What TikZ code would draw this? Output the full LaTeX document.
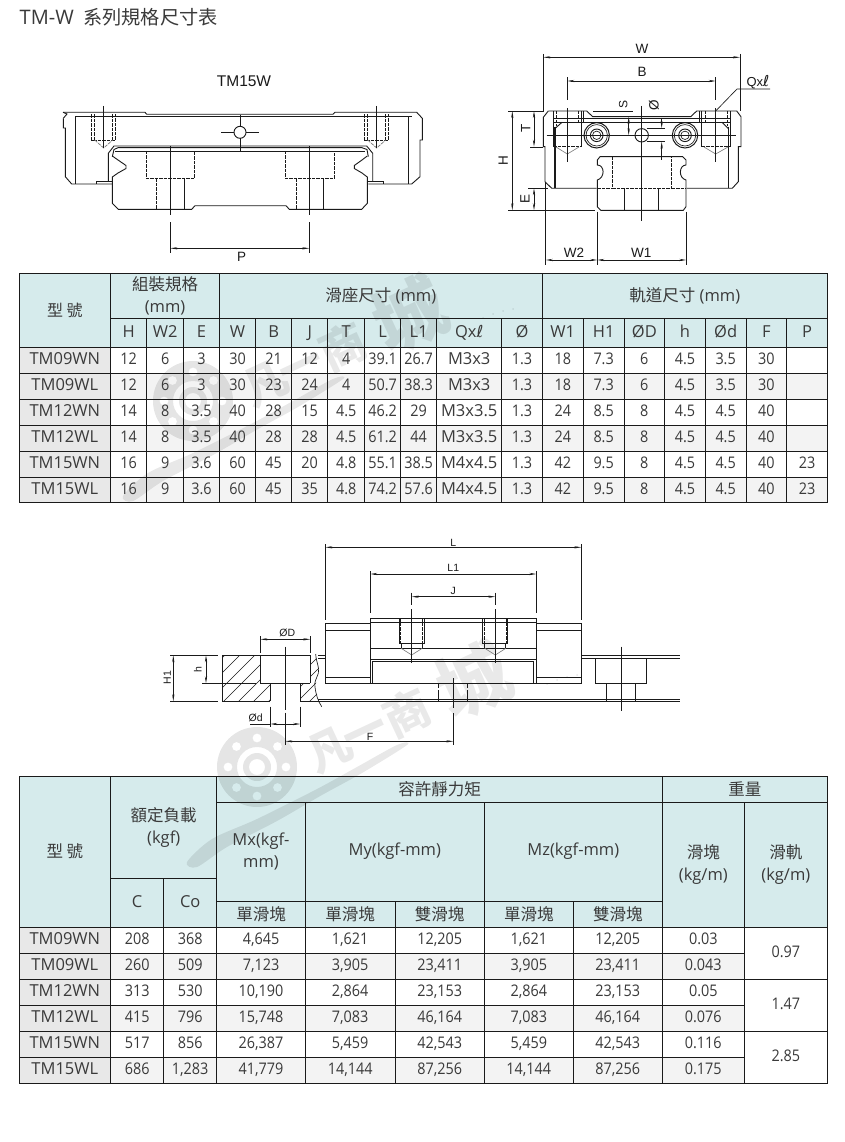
\documentclass[tikz,border=0pt]{standalone}
\usepackage{fontspec}
\usetikzlibrary{arrows.meta}
\setmainfont{Open Sans}
\newfontfamily\cjk{Noto Sans CJK TC}
\newfontfamily\cjksc{Noto Sans CJK SC}
\newfontfamily\djv{DejaVu Sans}
\newfontfamily\lib{Liberation Sans}
\newfontfamily\numf[FakeStretch=0.9]{Open Sans}
\definecolor{hdr}{HTML}{D6EBEC}
\definecolor{colg}{HTML}{E8E8E8}
\definecolor{rowg}{HTML}{F3F3F3}
\definecolor{txt}{HTML}{3A3A3A}
\definecolor{ink}{HTML}{1A1A1A}
\pgfdeclarelayer{bg}\pgfdeclarelayer{wm}
\pgfsetlayers{bg,wm,main}
\newcounter{cellno}
\def\nfn{\numf\fontsize{16}{22}\selectfont}
\tikzset{
 tline/.style={line width=0.9pt,draw=ink},
 tcell/.style={inner sep=0pt,align=center,text=txt,font=\fontsize{16.5}{22}\selectfont},
 o/.style={line width=0.9pt,draw=ink,line join=miter},
 ot/.style={line width=1.6pt,draw=ink},
 thin/.style={line width=0.65pt,draw=ink},
 dsh/.style={line width=0.75pt,draw=ink,dash pattern=on 3.5pt off 1pt},
 dim/.style={line width=0.65pt,draw=ink,{Stealth[length=7pt,width=2.2pt]}-{Stealth[length=7pt,width=2.2pt]}},
 lb/.style={inner sep=0pt,text=ink,font=\lib\fontsize{13.5}{13}\selectfont},
 lbs/.style={inner sep=0pt,text=ink,font=\lib\fontsize{10.5}{10}\selectfont},
 wmt/.style={rotate=25,opacity=.085,inner sep=0pt},
}
\newcommand{\tc}[6]{\stepcounter{cellno}%
 \begin{pgfonlayer}{bg}\fill[#5] (#1,#2) rectangle (#3,#4);\end{pgfonlayer}%
 \draw[tline] (#1,#2) rectangle (#3,#4);
 \node[tcell] (c\arabic{cellno}) at ({(#1+#3)/2},{(#2+#4)/2}) {#6};}
\newcommand{\wmark}[3]{\begin{scope}[shift={(#1,#2)}]
 \fill[black,opacity=.10,even odd rule] (0,0) circle (40pt) (0,0) circle (20pt) (0,0) circle (14pt) (0,0) circle (8pt)
  (29,0) circle (4.5pt) (20.5,20.5) circle (4.5pt) (0,29) circle (4.5pt) (-20.5,20.5) circle (4.5pt)
  (-29,0) circle (4.5pt) (-20.5,-20.5) circle (4.5pt) (0,-29) circle (4.5pt) (20.5,-20.5) circle (4.5pt);
 \fill[black,opacity=.09] plot[smooth cycle] coordinates {(-70,95) (-45,72) (0,52) (60,22) (100,0) (140,-22) (150,-22) (105,6) (65,28) (20,54) (-30,80) (-60,100)};
 \node[wmt,font=\cjksc\bfseries\fontsize{44}{44}\selectfont] (w#3a) at (73,-17) {凡};
 \node[wmt,font=\cjksc\bfseries\fontsize{44}{44}\selectfont] (w#3b) at (110,-30) {一};
 \node[wmt,font=\cjksc\bfseries\fontsize{46}{46}\selectfont] (w#3c) at (150,-54) {商};
 \node[wmt,font=\cjksc\bfseries\fontsize{72}{72}\selectfont] (w#3d) at (216,-87) {城};
 \foreach \a/\b in {290/-83,300/-87,310/-90,320/-92}{\fill[black,opacity=.09] (\a,\b) circle (1pt);}
\end{scope}}
\begin{document}
\begin{tikzpicture}[x=1pt,y=-1pt]
\useasboundingbox (0,0) rectangle (845,1142);
\begin{pgfonlayer}{bg}\fill[white] (0,0) rectangle (845,1142);\end{pgfonlayer}
\begin{pgfonlayer}{wm}\wmark{193}{401}{A}\wmark{257}{767}{B}\end{pgfonlayer}

% title
\node[anchor=west,inner sep=0pt,text=txt,font=\fontsize{20}{20}\selectfont] (title) at (19.5,17) {TM-W {\cjk\fontsize{19.2}{19}\selectfont\ 系列規格尺寸表}};

% ---- table 1 header
\tc{19}{273.7}{110.7}{347.3}{hdr}{{\cjk\fontsize{16}{16}\selectfont 型 號}}
\tc{110.7}{273.7}{219.3}{318.3}{hdr}{{\cjk\fontsize{16.5}{22}\selectfont 組裝規格}\\(mm)}
\tc{219.3}{273.7}{542.3}{318.3}{hdr}{{\cjk\fontsize{16.5}{16}\selectfont 滑座尺寸} (mm)}
\tc{542.3}{273.7}{827.3}{318.3}{hdr}{{\cjk\fontsize{16.5}{16}\selectfont 軌道尺寸} (mm)}
\def\xa{{19,110.7,146.7,183.7,219.3,255.7,291.7,327.7,364.7,400.7,436.7,501.7,542.3,583.3,624,664.7,705.3,746,786.7,827.3}}
\foreach \v [count=\i] in {H,W2,E,W,B,J,T,L,L1,{Qx{\djv\fontsize{16.5}{16}\selectfont ℓ}},Ø,W1,H1,ØD,h,Ød,F,P}{
 \pgfmathsetmacro\xl{\xa[\i]}\pgfmathsetmacro\xr{\xa[\i+1]}
 \tc{\xl}{318.3}{\xr}{347.3}{hdr}{\vphantom{(}\v}
}
\foreach \ya/\yb/\rf/\vals in {
 347.3/373/white/{TM09WN,12,6,3,30,21,12,4,39.1,26.7,M3x3,1.3,18,7.3,6,4.5,3.5,30,{}},
 373/399.3/rowg/{TM09WL,12,6,3,30,23,24,4,50.7,38.3,M3x3,1.3,18,7.3,6,4.5,3.5,30,{}},
 399.3/425.3/white/{TM12WN,14,8,3.5,40,28,15,4.5,46.2,29,M3x3.5,1.3,24,8.5,8,4.5,4.5,40,{}},
 425.3/451.3/rowg/{TM12WL,14,8,3.5,40,28,28,4.5,61.2,44,M3x3.5,1.3,24,8.5,8,4.5,4.5,40,{}},
 451.3/477.3/white/{TM15WN,16,9,3.6,60,45,20,4.8,55.1,38.5,M4x4.5,1.3,42,9.5,8,4.5,4.5,40,23},
 477.3/502.3/rowg/{TM15WL,16,9,3.6,60,45,35,4.8,74.2,57.6,M4x4.5,1.3,42,9.5,8,4.5,4.5,40,23}}{
 \foreach \v [count=\i] in \vals {
  \pgfmathsetmacro\xl{\xa[\i-1]}\pgfmathsetmacro\xr{\xa[\i]}
  \ifnum\i=1 \def\ff{colg}\def\fn{}\else\let\ff\rf\let\fn\nfn\fi
  \ifnum\i=11 \def\fn{}\fi
  \tc{\xl}{\ya}{\xr}{\yb}{\ff}{\fn\vphantom{(}\v}
 }
}

% ---- table 2 header
\def\hz{\cjk\fontsize{16.5}{22}\selectfont}
\tc{19}{776}{110.7}{927.3}{hdr}{{\hz 型 號}}
\tc{110.7}{776}{216.7}{878.3}{hdr}{{\hz 額定負載}\\(kgf)}
\tc{110.7}{878.3}{163.7}{927.3}{hdr}{\vphantom{(}C}
\tc{163.7}{878.3}{216.7}{927.3}{hdr}{\vphantom{(}Co}
\tc{216.7}{776}{662.3}{802.3}{hdr}{{\hz 容許靜力矩}}
\tc{662.3}{776}{827.3}{802.3}{hdr}{{\hz 重量}}
\tc{216.7}{802.3}{305.3}{901}{hdr}{Mx(kgf-\\mm)}
\tc{305.3}{802.3}{484.3}{901}{hdr}{My(kgf-mm)}
\tc{484.3}{802.3}{662.3}{901}{hdr}{Mz(kgf-mm)}
\tc{216.7}{901}{305.3}{927.3}{hdr}{{\hz 單滑塊}}
\tc{305.3}{901}{395}{927.3}{hdr}{{\hz 單滑塊}}
\tc{395}{901}{484.3}{927.3}{hdr}{{\hz 雙滑塊}}
\tc{484.3}{901}{573.3}{927.3}{hdr}{{\hz 單滑塊}}
\tc{573.3}{901}{662.3}{927.3}{hdr}{{\hz 雙滑塊}}
\tc{662.3}{802.3}{744.3}{927.3}{hdr}{{\hz 滑塊}\\(kg/m)}
\tc{744.3}{802.3}{827.3}{927.3}{hdr}{{\hz 滑軌}\\(kg/m)}
\def\xb{{19,110.7,163.7,216.7,305.3,395,484.3,573.3,662.3,744.3}}
\foreach \ya/\yb/\rf/\vals in {
 927.3/953.3/white/{TM09WN,208,368,{4,645},{1,621},{12,205},{1,621},{12,205},0.03},
 953.3/979.3/rowg/{TM09WL,260,509,{7,123},{3,905},{23,411},{3,905},{23,411},0.043},
 979.3/1005.3/white/{TM12WN,313,530,{10,190},{2,864},{23,153},{2,864},{23,153},0.05},
 1005.3/1031.3/rowg/{TM12WL,415,796,{15,748},{7,083},{46,164},{7,083},{46,164},0.076},
 1031.3/1057.3/white/{TM15WN,517,856,{26,387},{5,459},{42,543},{5,459},{42,543},0.116},
 1057.3/1083.3/rowg/{TM15WL,686,{1,283},{41,779},{14,144},{87,256},{14,144},{87,256},0.175}}{
 \foreach \v [count=\i] in \vals {
  \pgfmathsetmacro\xl{\xb[\i-1]}\pgfmathsetmacro\xr{\xb[\i]}
  \ifnum\i=1 \def\ff{colg}\def\fn{}\else\let\ff\rf\let\fn\nfn\fi
  \tc{\xl}{\ya}{\xr}{\yb}{\ff}{\fn\vphantom{(}\v}
 }
}
\tc{744.3}{927.3}{827.3}{979.3}{white}{\nfn\vphantom{(}0.97}
\tc{744.3}{979.3}{827.3}{1031.3}{white}{\nfn\vphantom{(}1.47}
\tc{744.3}{1031.3}{827.3}{1083.3}{white}{\nfn\vphantom{(}2.85}

% ---- front view
\node[lb,font=\lib\fontsize{15.5}{16}\selectfont] (tm15) at (244,81) {TM15W};
\draw[o] (63,112.3) -- (145,112.3) -- (146.7,114.3) -- (333,114.3) -- (335,112.3) -- (416.7,112.3) -- (422.3,118.3) -- (422.3,140) -- (420,140) -- (420,176.7) -- (411.7,184) -- (368.3,184);
\draw[o] (63.3,118.3) -- (63.3,128) -- (65.3,128) -- (65.3,176.7) -- (71.7,184) -- (112.3,184);
\draw[o] (63,112.3) -- (67,114) -- (63.3,118.3);
\draw[ot] (75,116.7) -- (411.7,116.7);
\draw[o] (75.7,116.7) -- (75.7,184) (408.3,116.7) -- (408.3,184);
\draw[o] (96.7,184) -- (96.7,181) -- (112.3,181) (368.3,181) -- (383.3,181) -- (383.3,184);
\draw[o] (108.3,181) -- (108.3,153.3) -- (114,146) -- (366.7,146) -- (372.7,153.3) -- (372.7,181);
\draw[o] (112.3,156.7) -- (114,149.5) -- (118,147.7) -- (362,147.7) -- (367,149.5) -- (368.3,156.7);
\draw[o] (115,151) -- (365,151);
\draw[o] (112.3,156) -- (118,160) -- (126,165.5) -- (126,168.5) -- (118,173) -- (112.3,177) -- (112.3,203.3) -- (118.3,209.3) -- (191.7,209.3) -- (195,205.7) -- (286,205.7) -- (289.3,209.3) -- (361.7,209.3) -- (367.3,203.3) -- (367.3,177) -- (362,173) -- (354.3,168.5) -- (354.3,165.5) -- (362,160) -- (367.3,156);
\draw[o] (240,132.3) circle (6pt);
\draw[thin] (221,132.3) -- (234,132.3) (246,132.3) -- (259,132.3) (240,115) -- (240,126.3) (240,138.3) -- (240,151);
\foreach \c in {103.7,376.7}{
 \draw[dsh] (\c-12,114.5) -- (\c-12,140) -- (\c+12,140) -- (\c+12,114.5);
 \draw[dsh] (\c-9,114.5) -- (\c-9,140) (\c+9,114.5) -- (\c+9,140);
 \draw[dsh,draw=gray] (\c-9,140) -- (\c,148) -- (\c+9,140);
 \draw[thin] (\c,106) -- (\c,148);
}
\draw[dsh] (146,151) -- (146,178.3) -- (194.7,178.3) -- (194.7,151);
\draw[dsh] (285,151) -- (285,178.3) -- (334.7,178.3) -- (334.7,151);
\draw[dsh] (156,178.3) -- (156,209.3) (296.3,178.3) -- (296.3,209.3);
\draw[o] (184.3,178.3) -- (184.3,209.3) (323.3,178.3) -- (323.3,209.3);
\draw[thin] (170.3,146) -- (170.3,215) (170.3,222.3) -- (170.3,253.3) (309.3,146) -- (309.3,215) (309.3,222.3) -- (309.3,253.3);
\draw[dim] (170.3,248.3) -- (309.3,248.3);
\node[lb] (lp) at (241.7,257.2) {P};

% ---- end view
\draw[o] (548.3,111) -- (586.7,111) -- (592.7,116.7) -- (690.7,116.7) -- (696.7,111) -- (736.7,111) -- (741,116.7) -- (741,146.7) -- (738.3,146.7) -- (738.3,181.7) -- (732.3,188.3) -- (686.7,188.3);
\draw[o] (548.3,111) -- (543.3,117.3) -- (543.3,146.7) -- (545,146.7) -- (545,181.7) -- (551.7,188.3) -- (596.7,188.3);
\draw[o] (553.3,118.3) -- (730,118.3) (553.3,122.3) -- (730,122.3);
\draw[ot] (555,126.7) -- (555,188.3) (728.3,126.7) -- (728.3,188.3);
\draw[o] (555,128.5) -- (562,122.3) (728.3,128.5) -- (722,122.3);
\draw[o] (553.3,111) -- (553.3,146.7) (581,111) -- (581,146.7) (583,111) -- (583,122.3) (701.7,111) -- (701.7,146.7) (699.5,111) -- (699.5,122.3) (730,111) -- (730,146.7);
\draw[dsh] (553.3,146.7) -- (581,146.7) (701.7,146.7) -- (730,146.7);
\draw[dsh] (556,111) -- (556,126) (578,111) -- (578,122) (705,111) -- (705,122) (727,111) -- (727,126);
\draw[thin,draw=gray] (556,147) -- (567.3,154) -- (579,147) (704,147) -- (715.7,154) -- (728,147);
\foreach \c in {596.7,685}{
 \draw[o,line width=1pt] (\c,135.3) circle (12.7pt);
 \draw[thin] (\c,135.3) circle (10.7pt);
 \draw[o] (\c,135.3) circle (6.3pt);
 \draw[thin] (\c,135.3) circle (4.2pt);
}
\draw[o] (641.7,135.3) circle (6.7pt);
\draw[thin] (546.7,135.3) -- (736,135.3);
\draw[thin] (641.7,106) -- (641.7,220.7);
\draw[o] (600,156.7) -- (682.7,156.7) -- (686,160) -- (686,165) .. controls (679,165) and (678,178) .. (686,180) -- (686,206.7) -- (683.3,210.3) -- (600.7,210.3) -- (597.3,206.7) -- (597.3,180) .. controls (605,178) and (605,165) .. (597.3,165) -- (597.3,160) -- cycle;
\draw[dsh] (612.3,156.7) -- (612.3,188.3) -- (671.7,188.3) -- (671.7,156.7);
\draw[dsh] (597.3,188.3) -- (612.3,188.3) (671.7,188.3) -- (686,188.3);
\draw[o] (624.3,188.3) -- (624.3,210.3) (658.3,188.3) -- (658.3,210.3);
% end view dimensions
\draw[thin] (543.3,54) -- (543.3,111) -- (508.3,111) (740,54) -- (740,111);
\draw[dim] (543.3,57.3) -- (740,57.3);
\node[lb] (lw) at (642,49) {W};
\draw[thin] (567.3,77.3) -- (567.3,100) (567.3,108.3) -- (567.3,161.7) (715.7,77.3) -- (715.7,100) (715.7,108.3) -- (715.7,161.7);
\draw[dim] (567.3,81) -- (715.7,81);
\node[lb] (lbb) at (642,71.7) {B};
\draw[thin] (715.7,111) -- (737,89) -- (770,89);
\node[lb,font=\lib\fontsize{13}{13}\selectfont] (lq) at (758,81.7) {Qx{\djv\fontsize{15}{13}\selectfont ℓ}};
\draw[dim] (512.3,111) -- (512.3,210.3);
\draw[thin] (508.3,210.3) -- (595,210.3);
\node[lb,rotate=90] (lh) at (503.3,160.7) {H};
\draw[dim] (534,111) -- (534,146.7);
\draw[thin] (530,147.3) -- (543.3,147.3) (528.3,188.3) -- (548.3,188.3);
\node[lb,rotate=90] (lt) at (525.7,128.3) {T};
\draw[dim] (534,188.3) -- (534,210.3);
\node[lb,rotate=90] (le) at (525,199.3) {E};
\draw[thin] (545.7,181.7) -- (545.7,265) (597.3,211.7) -- (597.3,265) (686.3,211.7) -- (686.3,265);
\draw[dim] (545.7,260) -- (597.3,260);
\draw[dim] (597.3,260) -- (686.3,260);
\node[lb] (lw2) at (574,252.7) {W2};
\node[lb] (lw1) at (641.3,252.7) {W1};
\draw[thin] (593.3,111) -- (632.7,111);
\draw[dim] (628.7,116.7) -- (628.7,135.3);
\node[lb,rotate=90,font=\lib\fontsize{12}{12}\selectfont] (ls) at (623.3,104) {S};
\node[lb,rotate=90] (lo) at (654,105) {Ø};
\draw[thin] (646.7,128.3) -- (665,128.3) (646.7,141.7) -- (665,141.7);
\draw[line width=.65pt,draw=ink,-{Stealth[length=7pt,width=2.2pt]}] (661.7,118) -- (661.7,128.3);
\draw[line width=.65pt,draw=ink,-{Stealth[length=7pt,width=2.2pt]}] (661.7,160) -- (661.7,141.7);

% ---- side view
\draw[o] (325.3,623.3) rectangle (370.3,683.3);
\draw[o] (536.3,623.3) rectangle (581.3,683.3);
\draw[o] (325.3,630) -- (370.3,630) (325.3,677.3) -- (370.3,677.3) (536.3,630) -- (581.3,630) (536.3,677.3) -- (581.3,677.3);
\draw[o] (370.3,618.3) -- (536.3,618.3) -- (536.3,683.3) -- (370.3,683.3) -- cycle;
\draw[o] (370.3,622.3) -- (536.3,622.3) (370.3,648.3) -- (536.3,648.3) (370.3,659.3) -- (536.3,659.3);
\draw[o] (372.3,683.3) -- (372.3,661.7) -- (533.3,661.7) -- (533.3,683.3);
\foreach \c in {411.7,495.3}{
 \draw[o] (\c-12.5,618.3) -- (\c-12.5,643.3) -- (\c+12.5,643.3) -- (\c+12.5,618.3);
 \draw[dsh] (\c-11,618.3) -- (\c-11,643.3) (\c+11,618.3) -- (\c+11,643.3);
 \draw[o] (\c-10.5,643.3) -- (\c-10.5,648.3) (\c+10.5,643.3) -- (\c+10.5,648.3);
 \draw[thin,draw=gray] (\c-10.5,648.3) -- (\c,655) -- (\c+10.5,648.3);
 \draw[thin] (\c,609.3) -- (\c,663.3) (\c,592.7) -- (\c,605);
}
\draw[thin] (325.3,544) -- (325.3,620) (581.3,544) -- (581.3,620);
\draw[dim] (325.3,547.3) -- (581.3,547.3);
\node[lbs] (ll) at (453.3,542.7) {L};
\draw[thin] (370.3,571) -- (370.3,613.3) (536.3,571) -- (536.3,613.3);
\draw[dim] (370.3,574) -- (536.3,574);
\node[lbs] (ll1) at (453.3,568.3) {L1};
\draw[dim] (411.7,596.7) -- (495.3,596.7);
\node[lbs] (lj) at (453.3,591) {J};
% rail
\draw[o] (222.3,655.3) -- (310.7,655.3) (222.3,655.3) -- (222.3,701.3) -- (270.3,701.3) (300.3,701.3) -- (320,701.3);
\draw[o] (202.3,683.3) -- (256,683.3) (260.3,683.3) -- (310.3,683.3);
\draw[o] (260.3,655.3) -- (260.3,683.3) (310.3,655.3) -- (310.3,683.3) (270.3,683.3) -- (270.3,701.3) (300.3,683.3) -- (300.3,701.3);
\draw[thin] (315.7,654) .. controls (316,662) and (320,668) .. (318.3,673.3) .. controls (316,680) and (314,682) .. (315,687) .. controls (316,695) and (318,701) .. (321.7,706.7);
\begin{scope}
 \clip (222.3,655.3) -- (260.3,655.3) -- (260.3,683.3) -- (270.3,683.3) -- (270.3,701.3) -- (222.3,701.3) -- cycle;
 \foreach \k in {230,245,...,330}{\draw[thin] (\k,650) -- (\k-60,710);}
\end{scope}
\begin{scope}
 \clip (310.3,655.3) -- (316,655.3) -- (318.3,673.3) -- (315,687) -- (319,701.3) -- (300.3,701.3) -- (300.3,683.3) -- (310.3,683.3) -- cycle;
 \foreach \k in {325,337,...,385}{\draw[thin] (\k,650) -- (\k-60,710);}
\end{scope}
\draw[o] (318,655.3) -- (325.3,655.3) (318,658.3) -- (325.3,658.3);
\draw[o] (318,699) -- (680,699) (320,701.3) -- (680,701.3);
\draw[o] (581.3,655.3) -- (680,655.3) (581.3,658.3) -- (680,658.3);
\draw[o] (595.3,658.3) -- (595.3,683.3) -- (646.3,683.3) -- (646.3,658.3);
\draw[o] (606.7,683.3) -- (606.7,701.3) (635.3,683.3) -- (635.3,701.3);
\draw[thin] (621.3,646.7) -- (621.3,710.7);
\draw[o] (438.3,683.3) -- (438.3,688) (438.3,690) -- (438.3,701.3) (467.7,683.3) -- (467.7,688) (467.7,690) -- (467.7,701.3);
\draw[thin] (453.3,678.3) -- (453.3,708) (453.3,713) -- (453.3,745);
\draw[thin] (285.3,646.7) -- (285.3,710) (285.3,712.7) -- (285.3,745);
\draw[dim] (285.3,741.3) -- (453.3,741.3);
\node[lbs] (lf) at (370,736.7) {F};
\draw[thin] (260.3,636) -- (260.3,653.3) (310.3,636) -- (310.3,653.3);
\draw[dim] (260.3,639.3) -- (310.3,639.3);
\node[lbs] (ldd) at (287.3,633.3) {ØD};
\draw[thin] (270.3,706.7) -- (270.3,727.3) (300.3,706.7) -- (300.3,727.3) (250,724) -- (270.3,724);
\draw[dim] (270.3,724) -- (300.3,724);
\node[lbs] (ld) at (255.7,718.3) {Ød};
\draw[thin] (170,655.3) -- (218.3,655.3) (170,701.3) -- (218.3,701.3);
\draw[dim] (173.3,655.3) -- (173.3,701.3);
\node[lbs,rotate=90] (lh1) at (167.3,677.3) {H1};
\draw[dim] (206,655.3) -- (206,683.3);
\node[lbs,rotate=90] (lhh) at (197.7,669.3) {h};
\end{tikzpicture}
\end{document}
